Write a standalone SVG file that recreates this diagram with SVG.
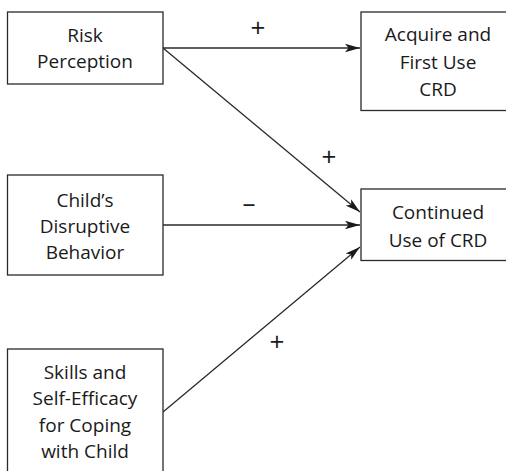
<svg xmlns="http://www.w3.org/2000/svg" width="506" height="471" viewBox="0 0 506 471">
  <style>
    .box { fill: #fff; stroke: #2a2a2a; stroke-width: 1.3; }
    .lbl { font-family: "Open Sans", "Liberation Sans", sans-serif; font-size: 19px; fill: #1a1a1a; text-anchor: middle; }
    .sign { font-family: "Open Sans", "Liberation Sans", sans-serif; font-size: 26px; fill: #1a1a1a; text-anchor: middle; }
    .edge { stroke: #2a2a2a; stroke-width: 1.3; fill: none; marker-end: url(#arrow); }
  </style>
  <defs>
    <marker id="arrow" markerUnits="userSpaceOnUse" markerWidth="16" markerHeight="10" refX="15" refY="5" orient="auto">
      <path d="M0,0.8 L15,5 L0,9.2 L3.5,5 Z" fill="#1a1a1a"/>
    </marker>
  </defs>

  <g id="connectors">
    <line class="edge" x1="163" y1="48" x2="360" y2="48"/>
    <line class="edge" x1="163" y1="48" x2="360" y2="212"/>
    <line class="edge" x1="163" y1="225" x2="360" y2="225"/>
    <line class="edge" x1="163" y1="412" x2="360" y2="247"/>
    <text class="sign" x="258" y="36.5">+</text>
    <text class="sign" x="329" y="166">+</text>
    <text class="sign" x="249" y="212">–</text>
    <text class="sign" x="277" y="351">+</text>
  </g>

  <g id="risk-perception">
    <rect class="box" x="7.5" y="12" width="155.5" height="72"/>
    <text class="lbl" x="85" y="42">Risk</text>
    <text class="lbl" x="85" y="68">Perception</text>
  </g>

  <g id="acquire-first-use">
    <rect class="box" x="361" y="12" width="155" height="98.5"/>
    <text class="lbl" x="438" y="41">Acquire and</text>
    <text class="lbl" x="438" y="68.5">First Use</text>
    <text class="lbl" x="438" y="95.5">CRD</text>
  </g>

  <g id="childs-disruptive-behavior">
    <rect class="box" x="7.5" y="175" width="155.5" height="100"/>
    <text class="lbl" x="85" y="207">Child’s</text>
    <text class="lbl" x="85" y="233">Disruptive</text>
    <text class="lbl" x="85" y="259">Behavior</text>
  </g>

  <g id="continued-use">
    <rect class="box" x="361" y="189" width="155" height="71.5"/>
    <text class="lbl" x="438" y="219">Continued</text>
    <text class="lbl" x="438" y="246.5">Use of CRD</text>
  </g>

  <g id="skills-self-efficacy">
    <rect class="box" x="7.5" y="349" width="155.5" height="130"/>
    <text class="lbl" x="85" y="379">Skills and</text>
    <text class="lbl" x="85" y="405">Self-Efficacy</text>
    <text class="lbl" x="85" y="431.5">for Coping</text>
    <text class="lbl" x="85" y="457.5">with Child</text>
  </g>
</svg>
